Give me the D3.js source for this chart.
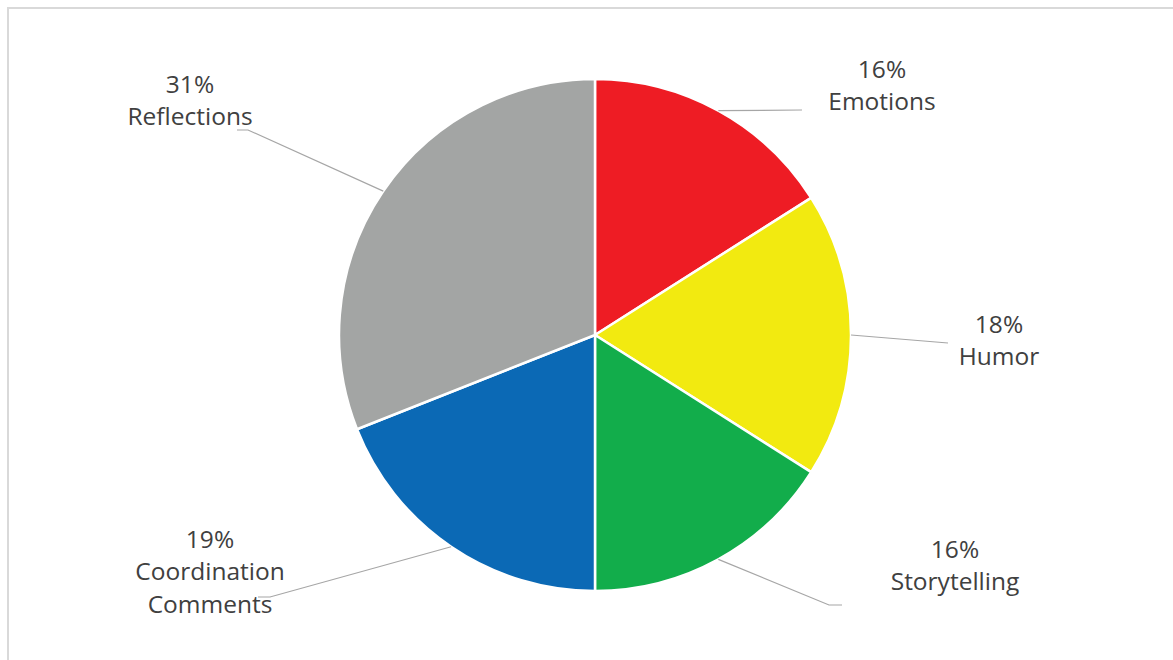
<!DOCTYPE html>
<html>
<head>
<meta charset="utf-8">
<script src="https://cdn.jsdelivr.net/npm/d3@7"></script>
<style>
  html, body { margin: 0; padding: 0; background: #fff; }
  svg { display: block; }
</style>
</head>
<body>
<svg id="chart" width="1173" height="660"></svg>
<script>
// ---- data ----
const categories = ["Emotions", "Humor", "Storytelling", "Coordination Comments", "Reflections"];
const values = [16, 18, 16, 19, 31];
const percentLabels = ["16%", "18%", "16%", "19%", "31%"];

// ---- styling / layout (not data) ----
const colors = ["#ee1c24", "#f2ea10", "#12ad4b", "#0b69b5", "#a3a5a4"];
const labelLines = [["Emotions"], ["Humor"], ["Storytelling"], ["Coordination", "Comments"], ["Reflections"]];
// label anchor (center x, first baseline y) and leader end points
const labelPos = [
  {x: 882, y: 78, end: [[802, 110]]},
  {x: 999, y: 333, end: [[948, 343]]},
  {x: 955, y: 558, end: [[829, 605], [842, 605]]},
  {x: 210, y: 548, end: [[270, 597], [258, 597]]},
  {x: 190, y: 93, end: [[248, 130], [237, 130]]}
];

const svg = d3.select("#chart");
const W = 1173, H = 660;
const cx = 595, cy = 335, R = 256;

// outer frame
svg.append("rect")
  .attr("x", 8).attr("y", 8)
  .attr("width", W + 10).attr("height", H + 10)
  .attr("fill", "#fff")
  .attr("stroke", "#d9d9d9")
  .attr("stroke-width", 2);

const pie = d3.pie().sort(null).value(d => d)(values);
const arc = d3.arc().innerRadius(0).outerRadius(R);

const g = svg.append("g").attr("transform", `translate(${cx},${cy})`);

g.selectAll("path.slice")
  .data(pie)
  .join("path")
  .attr("class", "slice")
  .attr("d", arc)
  .attr("fill", (d, i) => colors[i])
  .attr("stroke", "#fff")
  .attr("stroke-width", 2.5)
  .attr("stroke-linejoin", "round");

// leader lines
const line = d3.line();
pie.forEach((d, i) => {
  const mid = (d.startAngle + d.endAngle) / 2;
  const sx = cx + R * Math.sin(mid);
  const sy = cy - R * Math.cos(mid);
  const pts = [[sx, sy]].concat(labelPos[i].end);
  svg.append("path")
    .attr("d", line(pts))
    .attr("fill", "none")
    .attr("stroke", "#a6a6a6")
    .attr("stroke-width", 1.2);
});

// labels
const lineH = 32.3;
pie.forEach((d, i) => {
  const p = labelPos[i];
  const t = svg.append("text")
    .attr("x", p.x).attr("y", p.y)
    .attr("text-anchor", "middle")
    .attr("font-family", "'Open Sans', sans-serif")
    .attr("font-size", 24.5)
    .attr("fill", "#404040");
  const rows = [percentLabels[i]].concat(labelLines[i]);
  rows.forEach((r, k) => {
    t.append("tspan").attr("x", p.x).attr("y", p.y + k * lineH).text(r);
  });
});
</script>
</body>
</html>
